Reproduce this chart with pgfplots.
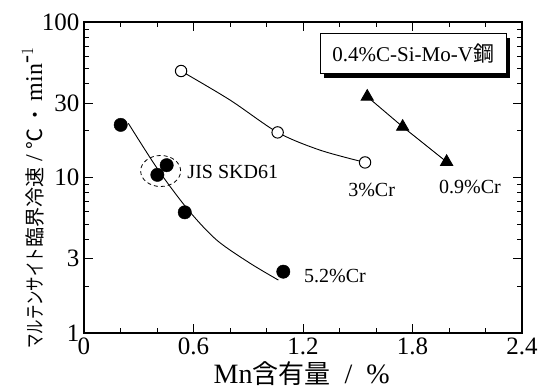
\documentclass[border=0pt]{standalone}
\usepackage{pgfplots}
\pgfplotsset{compat=1.18}
\usepackage{fontspec}
\usepackage{graphicx}
\usetikzlibrary{shadows}
\setmainfont{Liberation Serif}
\newfontfamily\cjk{Noto Sans CJK JP}

\begin{document}
\begin{tikzpicture}[x=1pt,y=1pt]
\begin{axis}[
  at={(84pt,57pt)}, anchor=south west,
  scale only axis, width=438pt, height=311pt,
  xmin=0, xmax=2.4, ymin=1, ymax=100, ymode=log,
  xtick={0,0.6,1.2,1.8,2.4}, xticklabels={0,0.6,1.2,1.8,2.4},
  minor xtick={0.2,0.4,0.8,1.0,1.4,1.6,2.0,2.2},
  ytick={1,3,10,30,100}, yticklabels={1,3,10,30,100},
  minor ytick={2,4,5,6,7,8,9,20,40,50,60,70,80,90},
  tick align=inside, major tick length=9pt, minor tick length=5pt,
  tick style={black, line width=1pt},
  axis line style={line width=1.3pt},
  ticklabel style={font=\fontsize{25}{25}\selectfont},
  /pgf/number format/assume math mode=true,
  xticklabel style={yshift=-1pt},
  yticklabel style={xshift=-1pt},
  clip=false,
]
% 5.2%Cr curve and points
\addplot[smooth, black, line width=0.9pt] coordinates {(0.243,22.3)(0.407,11.17)(0.5715,6.18)(0.727,3.96)(0.9096,2.81)(1.065,2.19)};
\addplot[only marks, mark=*, mark size=6.7pt, black] coordinates {(0.201,21.8)(0.402,10.4)(0.453,12.0)(0.552,5.97)(1.092,2.48)};
% 3%Cr curve and points
\addplot[smooth, black, line width=0.9pt] coordinates {(0.532,48.4)(0.8,31.5)(1.061,19.5)(1.293,15.0)(1.540,12.5)};
\addplot[only marks, mark=*, mark size=5.7pt, draw=black, fill=white, mark options={line width=1pt}] coordinates {(0.532,48.4)(1.061,19.5)(1.540,12.5)};
% 0.9%Cr
\addplot[black, line width=0.9pt, mark=triangle*, mark size=7pt] coordinates {(1.552,33.1)(1.746,21.2)(1.987,12.6)};

\draw[dash pattern=on 4pt off 3pt, line width=0.8pt] (axis cs:0.420,11.01) ellipse [x radius=20pt, y radius=15.5pt];

\node[anchor=west, inner sep=0pt, font=\fontsize{20}{20}\selectfont] at (axis cs:0.566,10.85) {JIS SKD61};
\node[inner sep=0pt, font=\fontsize{20}{20}\selectfont] at (axis cs:1.576,8.31) {3\%Cr};
\node[inner sep=0pt, font=\fontsize{20}{20}\selectfont] at (axis cs:2.115,8.65) {0.9\%Cr};
\node[inner sep=0pt, font=\fontsize{20}{20}\selectfont] at (axis cs:1.375,2.33) {5.2\%Cr};

\node[draw, line width=1pt, fill=white, minimum width=186pt, minimum height=40pt, inner sep=0pt,
  font=\fontsize{21}{21}\selectfont,
  drop shadow={shadow xshift=4pt, shadow yshift=-4pt, fill=black, opacity=1}]
  at (axis cs:1.804,62.3) {0.4\%C-Si-Mo-V{\cjk 鋼}};
\end{axis}
\node[rotate=90, inner sep=0pt] at (33pt,192pt)
  {{\cjk\fontsize{20}{20}\selectfont\scalebox{0.72}[1]{マルテンサイト}臨界冷速}\fontsize{24}{24}\selectfont\ /\ {\cjk\fontsize{21}{21}\selectfont ℃}\,{\cjk\fontsize{19}{19}\selectfont ・}\,min$^{\textnormal{-}1}$};
\node[anchor=base, inner sep=0pt] at (301.7pt,6pt)
  {\fontsize{28}{28}\selectfont Mn{\cjk\fontsize{26}{26}\selectfont 含有量}\ \ /\ \ \%};
\pgfresetboundingbox
\useasboundingbox (0,0) rectangle (538pt,390pt);
\end{tikzpicture}
\end{document}
